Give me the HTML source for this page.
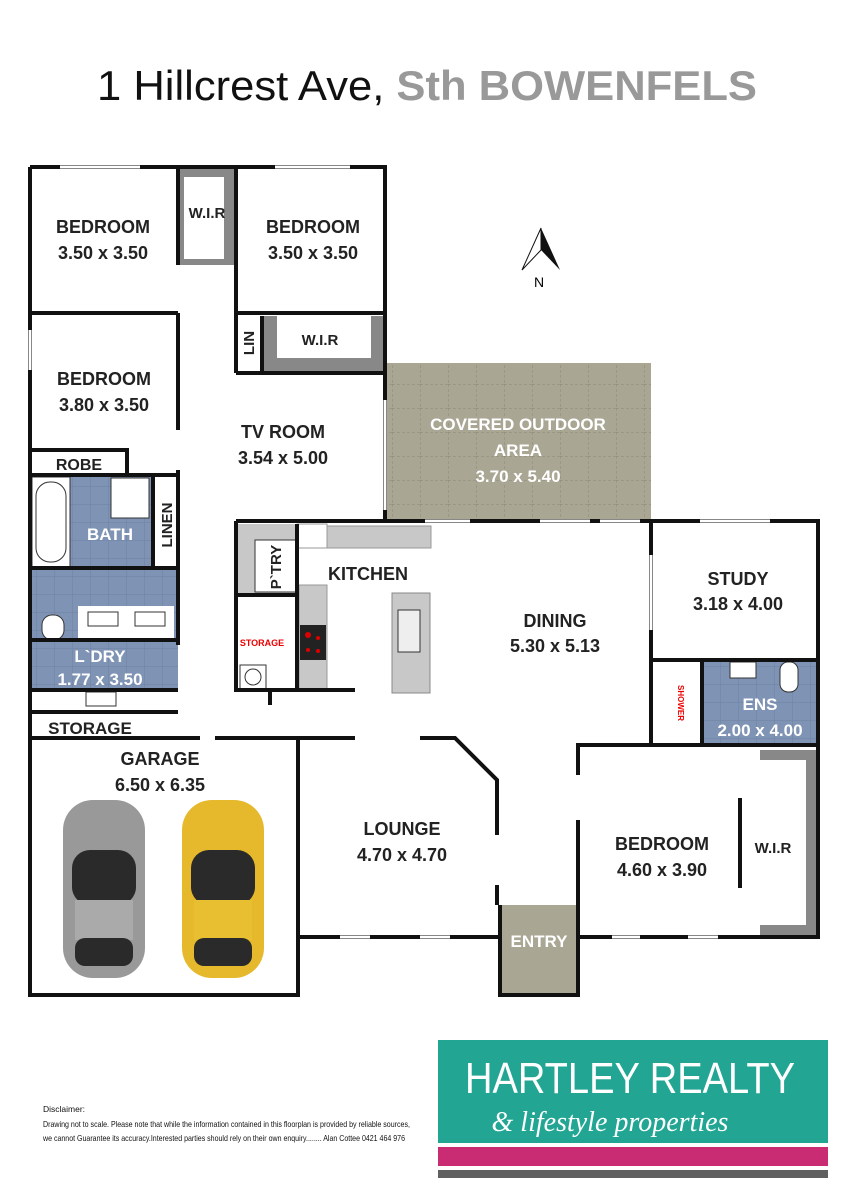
<!DOCTYPE html>
<html><head><meta charset="utf-8"><style>
body{margin:0;background:#fff;}
svg{display:block;}
text{font-family:"Liberation Sans",sans-serif;font-weight:bold;}
</style></head><body>
<svg width="848" height="1200" viewBox="0 0 848 1200" xmlns="http://www.w3.org/2000/svg">
<defs>
<pattern id="tile" width="18" height="18" patternUnits="userSpaceOnUse"><rect width="18" height="18" fill="#7f93b4"/><path d="M0 0H18M0 0V18" stroke="#6e82a4" stroke-width="1"/></pattern>
<pattern id="stone" width="28" height="24" patternUnits="userSpaceOnUse"><rect width="28" height="24" fill="#aaa694"/><path d="M0 0H28M0 0V24" stroke="#8c8878" stroke-width="1" stroke-dasharray="3 2"/></pattern>
</defs>
<text x="97" y="100" font-size="42" style="font-weight:normal" fill="#111" textLength="660" lengthAdjust="spacingAndGlyphs">1 Hillcrest Ave, <tspan fill="#999" style="font-weight:bold">Sth BOWENFELS</tspan></text>

<!-- fills -->
<rect x="385" y="363" width="266" height="158" fill="url(#stone)"/>
<rect x="30" y="475" width="148" height="215" fill="url(#tile)"/>
<rect x="32" y="477" width="38" height="90" fill="#fff" stroke="#333"/>
<rect x="36" y="482" width="30" height="80" rx="14" fill="#fff" stroke="#333"/>
<rect x="111" y="478" width="38" height="40" fill="#fff" stroke="#333"/>
<rect x="153" y="477" width="25" height="91" fill="#fff"/>
<rect x="78" y="606" width="96" height="32" fill="#fff"/>
<rect x="88" y="612" width="30" height="14" fill="#fff" stroke="#333"/>
<rect x="135" y="612" width="30" height="14" fill="#fff" stroke="#333"/>
<rect x="42" y="615" width="22" height="25" rx="10" fill="#fff" stroke="#333"/>
<rect x="30" y="690" width="148" height="22" fill="#fff"/>
<rect x="86" y="692" width="30" height="14" fill="#fff" stroke="#333"/>
<rect x="702" y="660" width="116" height="85" fill="url(#tile)"/>
<rect x="730" y="662" width="26" height="16" fill="#fff" stroke="#333"/>
<rect x="780" y="662" width="18" height="30" rx="8" fill="#fff" stroke="#333"/>
<rect x="500" y="905" width="78" height="90" fill="#aaa694"/>
<!-- WIR grey -->
<path d="M178 167H236V265H178Z" fill="#888"/><rect x="184" y="177" width="40" height="82" fill="#fff"/>
<path d="M262 316H385V373H262Z" fill="#888"/><rect x="277" y="316" width="94" height="42" fill="#fff"/>
<path d="M760 750H818V937H760Z" fill="#888"/><rect x="760" y="760" width="46" height="165" fill="#fff"/>
<!-- kitchen benches -->
<path d="M238 524H297V595H238Z" fill="#c8c8c8"/><rect x="255" y="540" width="42" height="52" fill="#fff" stroke="#333"/>
<rect x="297" y="524" width="30" height="24" fill="#fff" stroke="#999"/>
<rect x="327" y="526" width="104" height="22" fill="#c8c8c8" stroke="#999"/>
<rect x="299" y="585" width="28" height="105" fill="#c8c8c8" stroke="#999"/>
<rect x="300" y="625" width="26" height="35" fill="#222"/>
<circle cx="308" cy="635" r="3" fill="#d00"/><circle cx="318" cy="638" r="2" fill="#d00"/><circle cx="308" cy="650" r="2" fill="#d00"/><circle cx="318" cy="651" r="2" fill="#d00"/>
<rect x="392" y="593" width="38" height="100" fill="#c8c8c8" stroke="#888"/>
<rect x="398" y="610" width="22" height="42" fill="#eee" stroke="#333"/>
<rect x="240" y="665" width="26" height="25" fill="#fff" stroke="#333"/>
<circle cx="253" cy="677" r="8" fill="none" stroke="#333"/>

<!-- walls -->
<g stroke="#111" stroke-width="4" fill="none">
<path d="M30 167H385V313M30 167V995H298V738"/>
<path d="M178 167V265M236 167V313M178 313V430M178 470V645"/>
<path d="M30 313H178M236 313H385V521"/>
<path d="M30 450H127V475M30 475H178M153 475V568M30 568H178M30 640H178M30 690H178M30 712H178M30 738H200M215 738H298"/>
<path d="M236 373H385M236 313V373M262 316V373"/>
<path d="M236 521H818V937H578V820M578 775V745H818"/>
<path d="M651 521V660H818M702 660V745M651 660V745"/>
<path d="M236 521V690H355M297 524V690M236 595H297"/>
<path d="M298 738H355M420 738H455L497 780V835M497 885V905"/>
<path d="M298 937H500M500 905V995H578V905M578 937V905"/>
<path d="M740 798V888"/>
<path d="M270 690V705"/>
</g>
<g stroke="#fff" stroke-width="3">
<line x1="60" y1="167" x2="140" y2="167"/><line x1="275" y1="167" x2="350" y2="167"/>
<line x1="30" y1="330" x2="30" y2="370"/><line x1="385" y1="400" x2="385" y2="510"/>
<line x1="425" y1="521" x2="470" y2="521"/><line x1="540" y1="521" x2="590" y2="521"/><line x1="600" y1="521" x2="640" y2="521"/>
<line x1="700" y1="521" x2="770" y2="521"/><line x1="340" y1="937" x2="370" y2="937"/><line x1="420" y1="937" x2="450" y2="937"/>
<line x1="612" y1="937" x2="640" y2="937"/><line x1="688" y1="937" x2="718" y2="937"/>
<line x1="651" y1="555" x2="651" y2="630"/>
</g>

<!-- north -->
<path d="M541 228L522 270L541 250Z" fill="#fff" stroke="#111"/><path d="M541 228L560 270L541 250Z" fill="#111"/>
<text x="534" y="287" font-size="14" style="font-weight:normal">N</text>

<!-- cars -->
<g>
<rect x="63" y="800" width="82" height="178" rx="30" fill="#999"/>
<rect x="72" y="850" width="64" height="55" rx="18" fill="#2a2a2a"/>
<rect x="75" y="900" width="58" height="40" fill="#aaa"/>
<rect x="75" y="938" width="58" height="28" rx="10" fill="#2a2a2a"/>
<rect x="182" y="800" width="82" height="178" rx="30" fill="#e6b92c"/>
<rect x="191" y="850" width="64" height="55" rx="18" fill="#2a2a2a"/>
<rect x="194" y="900" width="58" height="40" fill="#e8bf30"/>
<rect x="194" y="938" width="58" height="28" rx="10" fill="#2a2a2a"/>
</g>

<!-- labels -->
<g font-size="18" fill="#222" text-anchor="middle">
<text x="103" y="233">BEDROOM</text><text x="103" y="259">3.50 x 3.50</text>
<text x="313" y="233">BEDROOM</text><text x="313" y="259">3.50 x 3.50</text>
<text x="104" y="385">BEDROOM</text><text x="104" y="411">3.80 x 3.50</text>
<text x="283" y="438">TV ROOM</text><text x="283" y="464">3.54 x 5.00</text>
<text x="555" y="627">DINING</text><text x="555" y="652">5.30 x 5.13</text>
<text x="738" y="585">STUDY</text><text x="738" y="610">3.18 x 4.00</text>
<text x="402" y="835">LOUNGE</text><text x="402" y="861">4.70 x 4.70</text>
<text x="662" y="850">BEDROOM</text><text x="662" y="876">4.60 x 3.90</text>
<text x="160" y="765">GARAGE</text><text x="160" y="791">6.50 x 6.35</text>
<text x="368" y="580">KITCHEN</text>
</g>
<g font-size="15" fill="#222" text-anchor="middle">
<text x="207" y="218">W.I.R</text><text x="320" y="345">W.I.R</text><text x="773" y="853">W.I.R</text>
</g>
<text x="79" y="470" font-size="16" fill="#222" text-anchor="middle">ROBE</text>
<text x="90" y="734" font-size="17" fill="#222" text-anchor="middle">STORAGE</text>
<g font-size="17" fill="#fff" text-anchor="middle">
<text x="110" y="540">BATH</text><text x="100" y="662">L`DRY</text><text x="100" y="685">1.77 x 3.50</text>
<text x="760" y="710">ENS</text><text x="760" y="736">2.00 x 4.00</text>
<text x="518" y="430">COVERED OUTDOOR</text><text x="518" y="456">AREA</text><text x="518" y="482">3.70 x 5.40</text>
<text x="539" y="947">ENTRY</text>
</g>
<text transform="translate(254,343) rotate(-90)" font-size="15" fill="#222" text-anchor="middle">LIN</text>
<text transform="translate(172,525) rotate(-90)" font-size="15" fill="#222" text-anchor="middle">LINEN</text>
<text transform="translate(281,567) rotate(-90)" font-size="15" fill="#222" text-anchor="middle">P`TRY</text>
<text x="262" y="646" font-size="9" fill="#e00" text-anchor="middle">STORAGE</text>
<text transform="translate(678,703) rotate(90)" font-size="8" fill="#e00" text-anchor="middle">SHOWER</text>

<!-- disclaimer -->
<g font-size="8.5" fill="#111">
<text x="43" y="1112" style="font-weight:normal">Disclaimer:</text>
<text x="43" y="1127" style="font-weight:normal" textLength="367" lengthAdjust="spacingAndGlyphs">Drawing not to scale. Please note that while the information contained in this floorplan is provided by reliable sources,</text>
<text x="43" y="1141" style="font-weight:normal" textLength="362" lengthAdjust="spacingAndGlyphs">we cannot Guarantee its accuracy.Interested parties should rely on their own enquiry........ Alan Cottee 0421 464 976</text>
</g>

<!-- logo -->
<rect x="438" y="1040" width="390" height="103" fill="#22a593"/>
<rect x="438" y="1147" width="390" height="19" fill="#c92c72"/>
<rect x="438" y="1170" width="390" height="8" fill="#606060"/>
<text x="465" y="1093" font-size="44" fill="#fff" style="font-weight:normal" textLength="330" lengthAdjust="spacingAndGlyphs">HARTLEY REALTY</text>
<text x="610" y="1131" font-size="28" fill="#fff" text-anchor="middle" font-style="italic" style="font-weight:normal;font-family:'Liberation Serif',serif">&amp; lifestyle properties</text>
</svg>
</body></html>
